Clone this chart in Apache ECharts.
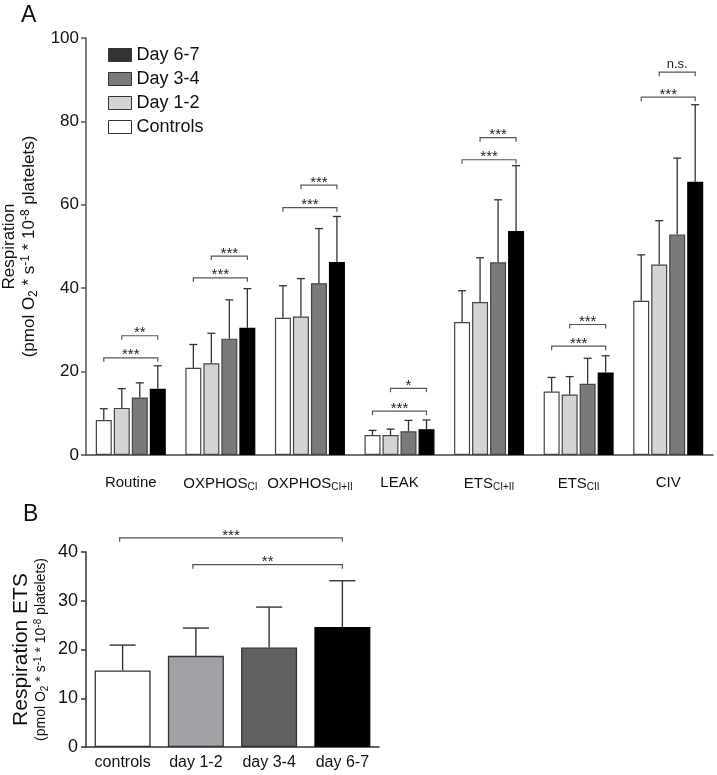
<!DOCTYPE html>
<html>
<head>
<meta charset="utf-8">
<script src="https://cdn.jsdelivr.net/npm/echarts@6/dist/echarts.min.js"></script>
<style>
  html, body { margin: 0; padding: 0; background: #fff; }
  #chart { width: 717px; height: 775px; }
</style>
</head>
<body>
<div id="chart"></div>
<script>
// ---- panel A data ----
const categoriesA = ['Routine', 'OXPHOS_CI', 'OXPHOS_CI+II', 'LEAK', 'ETS_CI+II', 'ETS_CII', 'CIV'];
const groupNames = ['Controls', 'Day 1-2', 'Day 3-4', 'Day 6-7'];
const controlsMean = [8.4, 20.9, 32.9, 4.8, 31.9, 15.2, 37.0];
const day12Mean = [11.3, 22.0, 33.2, 4.8, 36.7, 14.5, 45.7];
const day34Mean = [13.8, 27.9, 41.2, 5.7, 46.2, 17.1, 52.9];
const day67Mean = [15.9, 30.5, 46.3, 6.2, 53.7, 19.8, 65.5];
const controlsSD = [2.7, 5.6, 7.7, 1.1, 7.5, 3.4, 11.0];
const day12SD = [4.6, 7.2, 9.1, 1.4, 10.6, 4.3, 10.5];
const day34SD = [3.5, 9.3, 13.1, 2.6, 15.0, 6.1, 18.3];
const day67SD = [5.5, 9.4, 10.9, 2.2, 15.7, 4.0, 18.5];
// [group, from bar, to bar, height]
const bracketsA = [
  [0, 0, 3, 23.3], [0, 1, 3, 28.6],
  [1, 0, 3, 42.5], [1, 1, 3, 47.7],
  [2, 0, 3, 59.3], [2, 1, 3, 64.7],
  [3, 0, 3, 10.5], [3, 1, 3, 16.0],
  [4, 0, 3, 70.8], [4, 1, 3, 76.1],
  [5, 0, 3, 26.1], [5, 1, 3, 31.3],
  [6, 0, 3, 85.8], [6, 1, 3, 91.8]
];
const bracketLabelsA = ['***', '**', '***', '***', '***', '***', '***', '*', '***', '***', '***', '***', '***', 'n.s.'];

// ---- panel B data ----
const categoriesB = ['controls', 'day 1-2', 'day 3-4', 'day 6-7'];
const etsMean = [15.7, 18.7, 20.4, 24.6];
const etsSD = [5.2, 5.7, 8.3, 9.5];
const bracketsB = [[0, 3, 42.9], [1, 3, 37.4]];
const bracketLabelsB = ['***', '**'];

const FONT = 'Liberation Sans, Arial, sans-serif';
const BAR_A = 16, GAP_A = 2;
const colorsA = ['#ffffff', '#d4d4d4', '#7a7a7a', '#000000'];
const legendColors = ['#ffffff', '#d4d4d4', '#7a7a7a', '#333333'];
const colorsB = ['#ffffff', '#a2a2a6', '#616161', '#000000'];

const means = [controlsMean, day12Mean, day34Mean, day67Mean];
const sds = [controlsSD, day12SD, day34SD, day67SD];

const chart = echarts.init(document.getElementById('chart'));

const errA = [];
means.forEach(function (arr, s) {
  arr.forEach(function (v, c) { errA.push([c, s, v, sds[s][c]]); });
});

function bracket(x1, x2, y, text) {
  var stars = text.indexOf('*') === 0;
  return {
    type: 'group',
    children: [
      { type: 'polyline', shape: { points: [[x1, y + 4], [x1, y], [x2, y], [x2, y + 4]] },
        style: { stroke: '#555', lineWidth: 1.2, fill: null } },
      { type: 'text', style: { text: text, x: (x1 + x2) / 2, y: stars ? y + 5 : y - 1,
        align: 'center', verticalAlign: 'bottom',
        fontSize: stars ? 15 : 13, fontFamily: FONT, fill: '#222' } }
    ]
  };
}

const subRich = {
  s: { fontSize: 10, fontFamily: FONT, color: '#111', verticalAlign: 'bottom', padding: [7, 0, 0, 0] }
};

var option = {
  animation: false,
  textStyle: { fontFamily: FONT },
  graphic: [
    { type: 'text', left: 21, top: 4, style: { text: 'A', fontSize: 23, fontFamily: FONT, fill: '#111' } },
    { type: 'text', left: 23, top: 503, style: { text: 'B', fontSize: 23, fontFamily: FONT, fill: '#111' } }
  ],
  legend: {
    orient: 'vertical',
    left: 108,
    top: 46,
    padding: 0,
    itemWidth: 23,
    itemHeight: 13,
    itemGap: 6,
    icon: 'rect',
    textStyle: { fontSize: 18, color: '#111', fontFamily: FONT },
    data: [3, 2, 1, 0].map(function (i) {
      return { name: groupNames[i], itemStyle: { color: legendColors[i], borderColor: '#333', borderWidth: 1 } };
    })
  },
  grid: [
    { left: 86, right: 4, top: 38, bottom: 320, outerBoundsMode: 'none' },
    { left: 86, width: 293, top: 552, bottom: 28, outerBoundsMode: 'none' }
  ],
  xAxis: [
    {
      type: 'category', gridIndex: 0, data: categoriesA,
      axisLine: { lineStyle: { color: '#444', width: 1.5 } },
      axisTick: { show: false },
      axisLabel: {
        interval: 0, margin: 20, fontSize: 15, color: '#111', fontFamily: FONT, rich: subRich,
        formatter: function (v) {
          var p = v.split('_');
          return p.length > 1 ? p[0] + '{s|' + p[1] + '}' : v;
        }
      }
    },
    {
      type: 'category', gridIndex: 1, data: categoriesB,
      axisLine: { lineStyle: { color: '#333', width: 1.5 } },
      axisTick: { alignWithLabel: true, length: 6, lineStyle: { color: '#333', width: 1.5 } },
      axisLabel: { interval: 0, margin: 8, fontSize: 16, color: '#111', fontFamily: FONT }
    }
  ],
  yAxis: [
    {
      type: 'value', gridIndex: 0, min: 0, max: 100, interval: 20,
      splitLine: { show: false },
      axisLine: { show: true, lineStyle: { color: '#555', width: 1.5 } },
      axisTick: { show: true, length: 5, lineStyle: { color: '#555', width: 1.5 } },
      axisLabel: { fontSize: 17, color: '#111', margin: 7, fontFamily: FONT },
      name: 'Respiration\n(pmol O{sub|2} * s{sup|-1} * 10{sup|-8} platelets)',
      nameLocation: 'middle', nameRotate: 90, nameGap: 35,
      nameTextStyle: {
        fontSize: 17, color: '#111', fontFamily: FONT, lineHeight: 20,
        rich: {
          sub: { fontSize: 12, verticalAlign: 'bottom', color: '#111', fontFamily: FONT },
          sup: { fontSize: 12, verticalAlign: 'top', color: '#111', fontFamily: FONT }
        }
      }
    },
    {
      type: 'value', gridIndex: 1, min: 0, max: 40, interval: 10,
      splitLine: { show: false },
      axisLine: { show: true, lineStyle: { color: '#333', width: 1.5 } },
      axisTick: { show: true, length: 5, lineStyle: { color: '#333', width: 1.5 } },
      axisLabel: { fontSize: 18, color: '#111', margin: 8, fontFamily: FONT },
      name: '{big|Respiration ETS}\n(pmol O{sub|2} * s{sup|-1} * 10{sup|-8} platelets)',
      nameLocation: 'middle', nameRotate: 90, nameGap: 36,
      nameTextStyle: {
        fontSize: 14, color: '#111', fontFamily: FONT, lineHeight: 17,
        rich: {
          big: { fontSize: 21, lineHeight: 24, color: '#111', fontFamily: FONT },
          sub: { fontSize: 10, verticalAlign: 'bottom', color: '#111', fontFamily: FONT },
          sup: { fontSize: 10, verticalAlign: 'top', color: '#111', fontFamily: FONT }
        }
      }
    }
  ],
  series: []
};

groupNames.forEach(function (name, s) {
  option.series.push({
    type: 'bar', name: name, xAxisIndex: 0, yAxisIndex: 0,
    data: means[s], barWidth: BAR_A, barGap: (GAP_A / BAR_A * 100) + '%',
    itemStyle: { color: colorsA[s], borderColor: s === 3 ? '#000' : '#444', borderWidth: 1.2 }
  });
});

option.series.push({
  type: 'custom', name: 'errA', xAxisIndex: 0, yAxisIndex: 0, data: errA,
  encode: { x: 0, y: 2 }, z: 3,
  renderItem: function (params, api) {
    var c = api.value(0), s = api.value(1), m = api.value(2), sd = api.value(3);
    var off = (s - 1.5) * (BAR_A + GAP_A);
    var p0 = api.coord([c, m]), p1 = api.coord([c, m + sd]);
    var x = p0[0] + off;
    var st = { stroke: '#333', lineWidth: 1.3 };
    return {
      type: 'group', children: [
        { type: 'line', shape: { x1: x, y1: p0[1], x2: x, y2: p1[1] }, style: st },
        { type: 'line', shape: { x1: x - 4, y1: p1[1], x2: x + 4, y2: p1[1] }, style: st }
      ]
    };
  }
});

option.series.push({
  type: 'custom', name: 'bracketsA', xAxisIndex: 0, yAxisIndex: 0, data: bracketsA,
  encode: { x: 0, y: 3 }, z: 4,
  renderItem: function (params, api) {
    var g = api.value(0), a = api.value(1), b = api.value(2), y = api.value(3);
    var p = api.coord([g, y]);
    var step = BAR_A + GAP_A;
    return bracket(p[0] + (a - 1.5) * step, p[0] + (b - 1.5) * step, p[1], bracketLabelsA[params.dataIndex]);
  }
});

option.series.push({
  type: 'bar', name: 'ETS', xAxisIndex: 1, yAxisIndex: 1, barWidth: 56,
  data: etsMean.map(function (v, i) {
    return { value: v, itemStyle: { color: colorsB[i], borderColor: i === 3 ? '#000' : '#333', borderWidth: 1.3 } };
  })
});

option.series.push({
  type: 'custom', name: 'errB', xAxisIndex: 1, yAxisIndex: 1,
  data: etsMean.map(function (v, i) { return [i, v, etsSD[i]]; }),
  encode: { x: 0, y: 1 }, z: 3,
  renderItem: function (params, api) {
    var c = api.value(0), m = api.value(1), sd = api.value(2);
    var p0 = api.coord([c, m]), p1 = api.coord([c, m + sd]);
    var st = { stroke: '#333', lineWidth: 1.4 };
    return {
      type: 'group', children: [
        { type: 'line', shape: { x1: p0[0], y1: p0[1], x2: p0[0], y2: p1[1] }, style: st },
        { type: 'line', shape: { x1: p0[0] - 13, y1: p1[1], x2: p0[0] + 13, y2: p1[1] }, style: st }
      ]
    };
  }
});

option.series.push({
  type: 'custom', name: 'bracketsB', xAxisIndex: 1, yAxisIndex: 1, data: bracketsB,
  encode: { x: 0, y: 2 }, z: 4,
  renderItem: function (params, api) {
    var p1 = api.coord([api.value(0), api.value(2)]);
    var p2 = api.coord([api.value(1), api.value(2)]);
    return bracket(p1[0] - 3, p2[0], p1[1], bracketLabelsB[params.dataIndex]);
  }
});

chart.setOption(option);
</script>
</body>
</html>
